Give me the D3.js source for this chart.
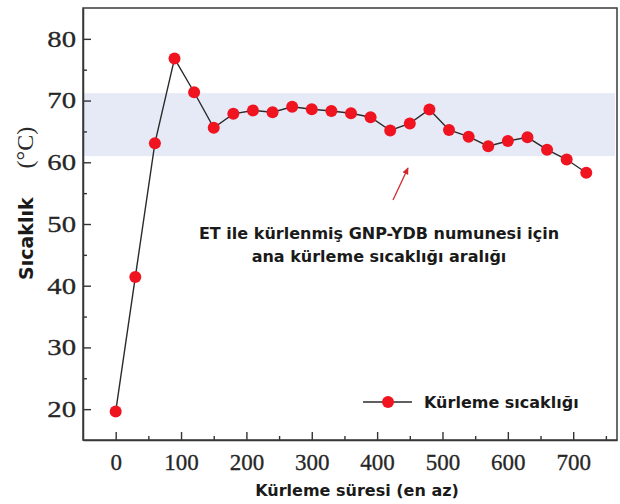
<!DOCTYPE html>
<html>
<head>
<meta charset="utf-8">
<script src="https://cdn.jsdelivr.net/npm/d3@7"></script>
<style>
  body { margin: 0; background: #fff; }
  svg { display: block; }
</style>
</head>
<body>
<script>
// chart data
var times = [0, 30, 60, 90, 120, 150, 180, 210, 240, 270, 300, 330, 360, 390, 420, 450, 480, 510, 540, 570, 600, 630, 660, 690, 720];
var temps = [19.6, 41.4, 63.1, 76.8, 71.35, 65.6, 67.85, 68.4, 68.1, 69.0, 68.6, 68.3, 67.95, 67.3, 65.15, 66.3, 68.55, 65.25, 64.15, 62.6, 63.45, 64.05, 62.05, 60.45, 58.3];
var band = [61, 71.2];
var xTicks = [0, 100, 200, 300, 400, 500, 600, 700];
var xMinor = [50, 150, 250, 350, 450, 550, 650, 750];
var yTicks = [20, 30, 40, 50, 60, 70, 80];
var yMinor = [25, 35, 45, 55, 65, 75];
var seriesName = "Kürleme sıcaklığı";
var noteLines = ["ET ile kürlenmiş GNP-YDB numunesi için", "ana kürleme sıcaklığı aralığı"];

var width = 620;
var height = 504;
// plot box (window.top is reserved, so use other names)
var pLeft = 83, pRight = 617, pTop = 8, pBottom = 440;

var svg = d3.select("body")
  .append("svg")
  .attr("width", width)
  .attr("height", height);

var x = d3.scaleLinear().domain([-50, 767]).range([pLeft, pRight]);
var y = d3.scaleLinear().domain([15, 85]).range([pBottom, pTop]);

var data = times.map((t, i) => ({t: t, v: temps[i]}));

// shaded range
svg.append("rect")
  .attr("x", pLeft + 1)
  .attr("width", pRight - pLeft - 3)
  .attr("y", y(band[1]))
  .attr("height", y(band[0]) - y(band[1]))
  .attr("fill", "#e6eaf6");

// axes (ticks point inward)
var serif = "'Liberation Serif', 'Times New Roman', serif";
var sans = "'DejaVu Sans', Verdana, sans-serif";

var gx = svg.append("g")
  .attr("transform", "translate(0," + pBottom + ")")
  .call(d3.axisBottom(x).tickValues(xTicks).tickSize(-8).tickSizeOuter(0).tickPadding(14));
svg.append("g")
  .attr("transform", "translate(0," + pBottom + ")")
  .call(d3.axisBottom(x).tickValues(xMinor).tickSize(-4).tickFormat(""))
  .call(g => g.select(".domain").remove());

var gy = svg.append("g")
  .attr("transform", "translate(" + pLeft + ",0)")
  .call(d3.axisLeft(y).tickValues(yTicks).tickSize(-8).tickSizeOuter(0));
svg.append("g")
  .attr("transform", "translate(" + pLeft + ",0)")
  .call(d3.axisLeft(y).tickValues(yMinor).tickSize(-4).tickFormat(""))
  .call(g => g.select(".domain").remove());

svg.selectAll(".tick line").attr("stroke", "#333").attr("stroke-width", 1.4);
svg.selectAll(".domain").attr("stroke", "#333").attr("stroke-width", 1.5);

gx.selectAll("text")
  .attr("font-family", serif)
  .attr("font-size", 23)
  .attr("fill", "#262626")
  .attr("stroke", "#262626")
  .attr("stroke-width", 0.3);

// y labels look a bit wider in the original
gy.selectAll("text")
  .attr("font-family", serif)
  .attr("font-size", 23)
  .attr("fill", "#262626")
  .attr("stroke", "#262626")
  .attr("stroke-width", 0.3)
  .attr("x", -7 / 1.25)
  .attr("transform", "scale(1.25,1)");

// frame
svg.append("rect")
  .attr("x", pLeft)
  .attr("y", pTop)
  .attr("width", pRight - pLeft)
  .attr("height", pBottom - pTop)
  .attr("fill", "none")
  .attr("stroke", "#3a3a3a")
  .attr("stroke-width", 1.5);

// series
var line = d3.line().x(d => x(d.t)).y(d => y(d.v));

svg.append("path")
  .datum(data)
  .attr("d", line)
  .attr("fill", "none")
  .attr("stroke", "#2b2b2b")
  .attr("stroke-width", 1.4);

svg.append("g")
  .selectAll("circle")
  .data(data)
  .join("circle")
    .attr("cx", d => x(d.t))
    .attr("cy", d => y(d.v))
    .attr("r", 6)
    .attr("fill", "#f01420");

// annotation
svg.append("defs").append("marker")
  .attr("id", "head")
  .attr("viewBox", "0 0 10 10")
  .attr("refX", 8).attr("refY", 5)
  .attr("markerWidth", 6).attr("markerHeight", 6)
  .attr("orient", "auto")
  .append("path")
  .attr("d", "M0,1 L9,5 L0,9 z")
  .attr("fill", "#d02a30");

svg.append("line")
  .attr("x1", 393).attr("y1", 200)
  .attr("x2", 408).attr("y2", 168)
  .attr("stroke", "#d02a30")
  .attr("stroke-width", 1.3)
  .attr("marker-end", "url(#head)");

svg.append("g")
  .selectAll("text")
  .data(noteLines)
  .join("text")
    .attr("x", 379)
    .attr("y", (d, i) => 239 + i * 23)
    .attr("text-anchor", "middle")
    .attr("font-family", sans)
    .attr("font-weight", "bold")
    .attr("font-size", 16)
    .attr("fill", "#1a1a1a")
    .text(d => d);

// legend
var lg = svg.append("g").attr("transform", "translate(363,402)");
lg.append("line")
  .attr("x1", 0).attr("x2", 49)
  .attr("stroke", "#2b2b2b").attr("stroke-width", 1.4);
lg.append("circle")
  .attr("cx", 25).attr("r", 6).attr("fill", "#f01420");
lg.append("text")
  .attr("x", 61).attr("y", 6)
  .attr("font-family", sans)
  .attr("font-weight", "bold")
  .attr("font-size", 16)
  .attr("fill", "#1a1a1a")
  .text(seriesName);

// axis titles
svg.append("text")
  .attr("x", (pLeft + pRight) / 2 + 7)
  .attr("y", 496)
  .attr("text-anchor", "middle")
  .attr("font-family", sans)
  .attr("font-weight", "bold")
  .attr("font-size", 16)
  .attr("fill", "#1a1a1a")
  .text("Kürleme süresi (en az)");

var yt = svg.append("text")
  .attr("transform", "translate(33,280) rotate(-90)")
  .attr("fill", "#1a1a1a");
yt.append("tspan")
  .attr("font-family", sans)
  .attr("font-weight", "bold")
  .attr("font-size", 19)
  .text("Sıcaklık");
yt.append("tspan")
  .attr("dx", 29)
  .attr("font-family", serif)
  .attr("font-size", 24)
  .attr("fill", "#2a2a2a")
  .text("(°C)");
</script>
</body>
</html>
